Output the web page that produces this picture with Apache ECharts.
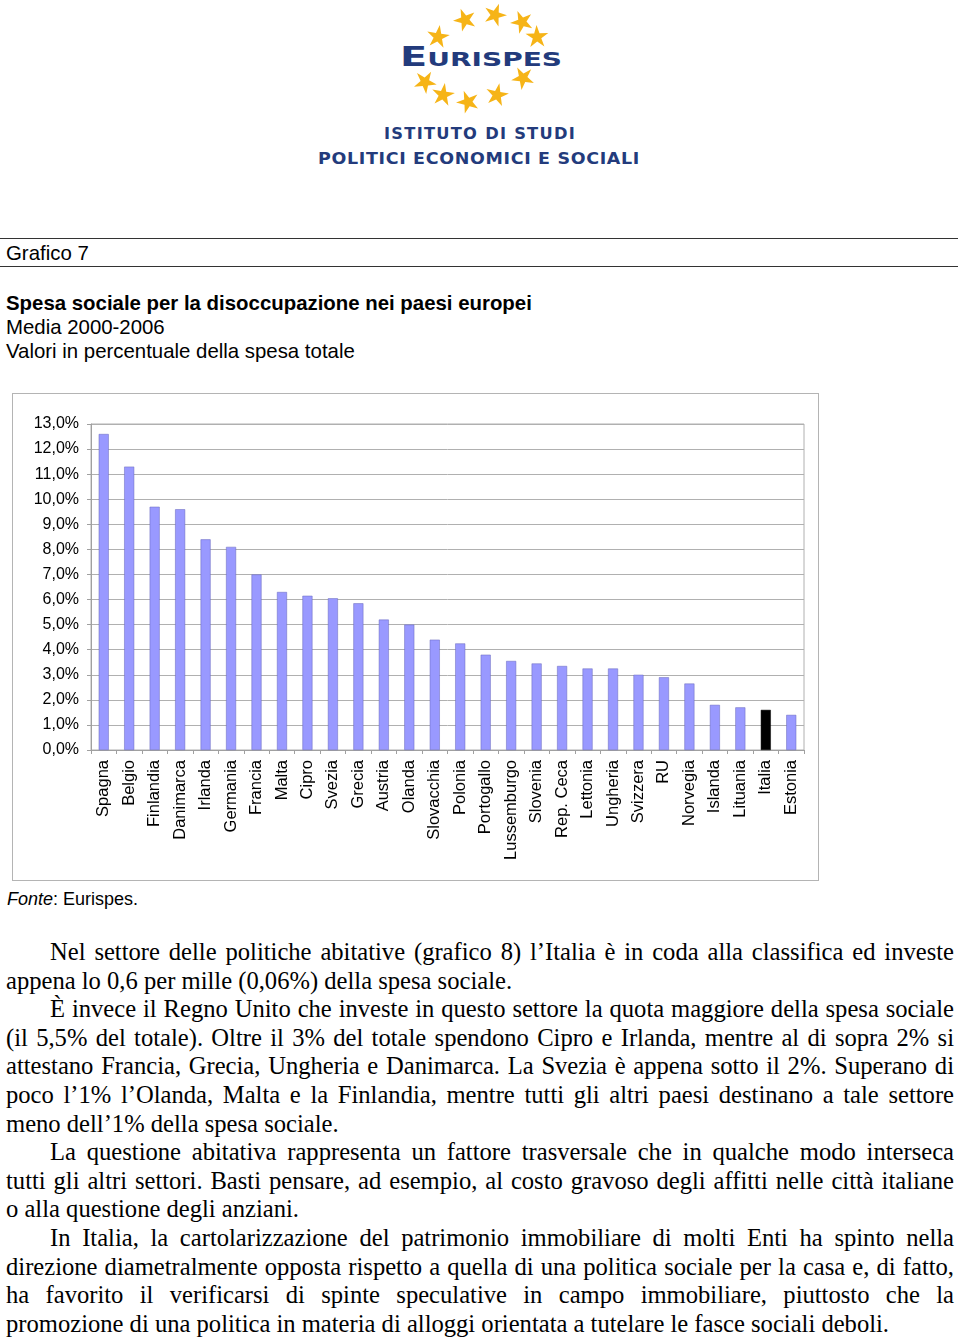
<!DOCTYPE html>
<html>
<head>
<meta charset="utf-8">
<script src="https://cdn.jsdelivr.net/npm/echarts@6/dist/echarts.min.js"></script>
<style>
  html, body { margin:0; padding:0; background:#fff; }
  body { width:960px; height:1338px; position:relative; overflow:hidden; font-family:"Liberation Sans", Arial, sans-serif; color:#000; }
  .abs { position:absolute; }
  .rule { position:absolute; left:0; width:958px; height:0; border-top:1.5px solid #333; }
  .hdr { position:absolute; left:6px; font-size:20.4px; line-height:24px; white-space:nowrap; }
  #chartbox { position:absolute; left:12px; top:393px; width:805px; height:486px; border:1.5px solid #b4b4b4; }
  #chart { width:805px; height:486px; }
  .para { position:absolute; left:6px; width:948px; font-family:"Liberation Serif","Times New Roman",serif; font-size:24.6px; line-height:28.6px; white-space:nowrap; }
  .j { text-align:justify; text-align-last:justify; }
  .ind { padding-left:44px; width:904px; }
  .logo-t { position:absolute; color:#233b7c; font-family:"DejaVu Sans", sans-serif; font-weight:bold; white-space:nowrap; }
</style>
</head>
<body>
<!-- logo -->
<svg class="abs" style="left:400px;top:0px" width="160" height="120" viewBox="400 0 160 120" id="stars"></svg>
<div class="logo-t" style="left:400px;top:41px;font-size:27px;font-variant:small-caps;" id="eur">Eurispes</div>
<div class="logo-t" style="left:384px;top:125px;font-size:15.5px;letter-spacing:1.2px;" id="ist">ISTITUTO DI STUDI</div>
<div class="logo-t" style="left:318px;top:150px;font-size:15.5px;letter-spacing:0.6px;" id="pol">POLITICI ECONOMICI E SOCIALI</div>

<div class="rule" style="top:238px"></div>
<div class="hdr" style="top:241px">Grafico 7</div>
<div class="rule" style="top:266px"></div>

<div class="hdr" style="top:291px;font-weight:bold">Spesa sociale per la disoccupazione nei paesi europei</div>
<div class="hdr" style="top:315px">Media 2000-2006</div>
<div class="hdr" style="top:339px">Valori in percentuale della spesa totale</div>

<div id="chartbox"><div id="chart"></div></div>

<div class="abs" style="left:7px;top:888px;font-size:18px;line-height:22px"><i>Fonte</i>: Eurispes.</div>

<div id="text"></div>

<script>
// ---- data ----
const categories = ["Spagna","Belgio","Finlandia","Danimarca","Irlanda","Germania","Francia","Malta","Cipro","Svezia","Grecia","Austria","Olanda","Slovacchia","Polonia","Portogallo","Lussemburgo","Slovenia","Rep. Ceca","Lettonia","Ungheria","Svizzera","RU","Norvegia","Islanda","Lituania","Italia","Estonia"];
const values = [12.6, 11.3, 9.7, 9.6, 8.4, 8.1, 7.0, 6.3, 6.15, 6.05, 5.85, 5.2, 5.0, 4.4, 4.25, 3.8, 3.55, 3.45, 3.35, 3.25, 3.25, 3.0, 2.9, 2.65, 1.8, 1.7, 1.6, 1.4];
const highlight = "Italia";
const yTicks = { min: 0, max: 13, interval: 1 };

const lines = [
  ["Nel settore delle politiche abitative (grafico 8) l’Italia è in coda alla classifica ed investe", "ind j"],
  ["appena lo 0,6 per mille (0,06%) della spesa sociale.", ""],
  ["È invece il Regno Unito che investe in questo settore la quota maggiore della spesa sociale", "ind j"],
  ["(il 5,5% del totale). Oltre il 3% del totale spendono Cipro e Irlanda, mentre al di sopra 2% si", "j"],
  ["attestano Francia, Grecia, Ungheria e Danimarca. La Svezia è appena sotto il 2%. Superano di", "j"],
  ["poco l’1% l’Olanda, Malta e la Finlandia, mentre tutti gli altri paesi destinano a tale settore", "j"],
  ["meno dell’1% della spesa sociale.", ""],
  ["La questione abitativa rappresenta un fattore trasversale che in qualche modo interseca", "ind j"],
  ["tutti gli altri settori. Basti pensare, ad esempio, al costo gravoso degli affitti nelle città italiane", "j"],
  ["o alla questione degli anziani.", ""],
  ["In Italia, la cartolarizzazione del patrimonio immobiliare di molti Enti ha spinto nella", "ind j"],
  ["direzione diametralmente opposta rispetto a quella di una politica sociale per la casa e, di fatto,", "j"],
  ["ha favorito il verificarsi di spinte speculative in campo immobiliare, piuttosto che la", "j"],
  ["promozione di una politica in materia di alloggi orientata a tutelare le fasce sociali deboli.", ""]
];

// paragraph text
const tdiv = document.getElementById('text');
lines.forEach((l, i) => {
  const d = document.createElement('div');
  d.className = 'para ' + l[1];
  d.style.top = (938 + i * 28.6) + 'px';
  d.textContent = l[0];
  tdiv.appendChild(d);
});

// logo stars
const starPos = [[495,15],[465,20],[522,22],[438,37],[537,37],[425,82],[523,78],[443,95],[468,102],[497,95]];
const svg = document.getElementById('stars');
let s = '';
starPos.forEach((p) => {
  const rot = Math.atan2(p[1]-58, p[0]-480);
  let pts = [];
  for (let i = 0; i < 10; i++) {
    const r = i % 2 === 0 ? 12 : 4.5;
    const a = rot + i * Math.PI / 5;
    pts.push((p[0] + r*Math.cos(a)).toFixed(1) + ',' + (p[1] + r*Math.sin(a)).toFixed(1));
  }
  s += '<polygon points="' + pts.join(' ') + '" fill="#f6b417"/>';
});
svg.innerHTML = s;

// fit logo text widths
function fit(id, w) {
  const el = document.getElementById(id);
  const cw = el.getBoundingClientRect().width;
  el.style.transformOrigin = '0 0';
  el.style.transform = 'scaleX(' + (w / cw) + ')';
}
fit('eur', 162); fit('ist', 192); fit('pol', 322);

// chart
const chart = echarts.init(document.getElementById('chart'), null, { renderer: 'canvas' });
chart.setOption({
  animation: false,
  grid: { left: 78, top: 30, width: 713, height: 326, show: true, borderColor: '#b0b0b0', borderWidth: 1, backgroundColor: 'transparent' },
  xAxis: {
    type: 'category',
    data: categories,
    axisLine: { lineStyle: { color: '#a0a0a0', width: 1 } },
    axisTick: { show: true, alignWithLabel: false, length: 4, lineStyle: { color: '#a0a0a0' } },
    axisLabel: { rotate: 90, interval: 0, fontSize: 16.5, color: '#000', fontFamily: 'Liberation Sans, Arial, sans-serif', margin: 10 }
  },
  yAxis: {
    type: 'value',
    min: yTicks.min, max: yTicks.max, interval: yTicks.interval,
    axisLine: { show: true, lineStyle: { color: '#a0a0a0', width: 1 } },
    axisTick: { show: true, length: 4, lineStyle: { color: '#a0a0a0' } },
    splitLine: { show: true, lineStyle: { color: '#b0b0b0', width: 1 } },
    axisLabel: { fontSize: 16, color: '#000', fontFamily: 'Liberation Sans, Arial, sans-serif', margin: 12,
      formatter: v => v.toFixed(1).replace('.', ',') + '%' }
  },
  series: [{
    type: 'bar',
    barWidth: 10,
    data: values.map((v, i) => ({
      value: v,
      itemStyle: categories[i] === highlight
        ? { color: '#000000', borderColor: '#000000', borderWidth: 0.5 }
        : { color: '#9999ff', borderColor: '#6666bb', borderWidth: 0.5 }
    }))
  }]
});
</script>
</body>
</html>
